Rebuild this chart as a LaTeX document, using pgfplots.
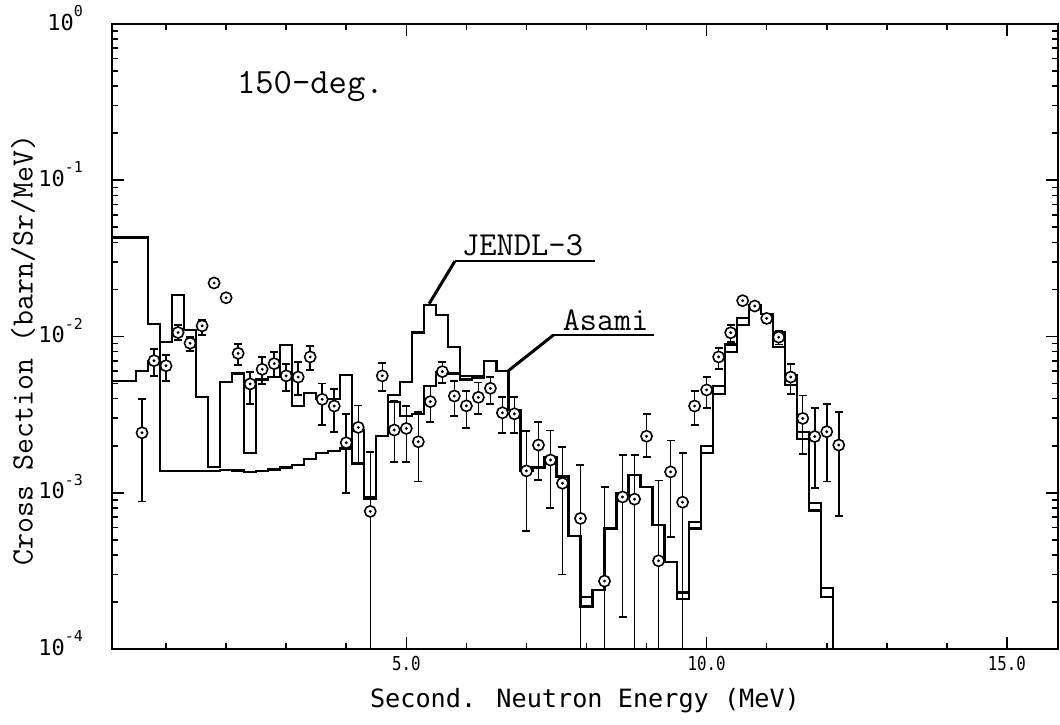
\documentclass[border=0pt]{standalone}
\usepackage{fontspec}
\newfontfamily\plotfont{DejaVu Sans Mono}[FakeStretch=0.82]
\newfontfamily\labfont{DejaVu Sans Mono}
\usepackage{pgfplots}
\pgfplotsset{compat=1.18}
\usepackage{pgfplotstable}

\pgfdeclareplotmark{odot}{%
  \pgfpathcircle{\pgfpointorigin}{\pgfplotmarksize}%
  \pgfsetfillcolor{white}%
  \pgfusepathqfillstroke
  \pgfsetfillcolor{black}%
  \pgfpathcircle{\pgfpointorigin}{0.8pt}%
  \pgfusepathqfill
}
\newcommand{\tenp}[1]{10\raisebox{0.62em}{\fontsize{7.5}{7.5}\selectfont#1}}

% smooth evaluation (high start, flat continuum)
\pgfplotstableread{
E v
0.1 0.043
0.7 0.012
0.9 1.38e-3
1.1 1.38e-3
1.3 1.38e-3
1.5 1.38e-3
1.7 1.38e-3
1.9 1.40e-3
2.1 1.39e-3
2.3 1.36e-3
2.5 1.37e-3
2.7 1.41e-3
2.9 1.45e-3
3.1 1.50e-3
3.3 1.64e-3
3.5 1.79e-3
3.7 1.85e-3
3.9 1.92e-3
4.1 2.5e-3
4.3 9.4e-4
4.5 2.3e-3
4.7 3.8e-3
4.9 3.1e-3
5.1 3.2e-3
5.3 4.8e-3
5.5 5.9e-3
5.7 5.8e-3
5.9 5.3e-3
6.1 5.6e-3
6.3 7.0e-3
6.5 6.0e-3
6.7 3.4e-3
6.9 1.37e-3
7.1 1.45e-3
7.3 1.70e-3
7.5 1.27e-3
7.7 5.3e-4
7.9 1.87e-4
8.1 2.38e-4
8.3 5.9e-4
8.5 9.6e-4
8.7 1.30e-3
8.9 1.09e-3
9.1 6.2e-4
9.3 3.6e-4
9.5 2.3e-4
9.7 6.5e-4
9.9 2.0e-3
10.1 4.8e-3
10.3 8.9e-3
10.5 0.0131
10.7 0.0160
10.9 0.0140
11.1 0.0106
11.3 5.7e-3
11.5 2.45e-3
11.7 8.6e-4
11.9 2.45e-4
12.1 1e-6
12.3 1e-6
}\asami

% jagged evaluation
\pgfplotstableread{
E v
0.1 5.2e-3
0.5 6.0e-3
0.7 7.0e-3
0.9 9.2e-3
1.1 0.0184
1.3 0.0110
1.5 4.1e-3
1.7 1.46e-3
1.9 5.1e-3
2.1 5.8e-3
2.3 1.8e-3
2.5 5.3e-3
2.7 5.5e-3
2.9 8.8e-3
3.1 3.6e-3
3.3 4.35e-3
3.5 4.0e-3
3.7 4.0e-3
3.9 5.7e-3
4.1 1.54e-3
4.3 9.1e-4
4.5 2.3e-3
4.7 4.2e-3
4.9 5.1e-3
5.1 0.0106
5.3 0.0160
5.5 0.0137
5.7 8.6e-3
5.9 5.6e-3
6.1 5.4e-3
6.3 7.0e-3
6.5 6.0e-3
6.7 3.4e-3
6.9 1.37e-3
7.1 1.45e-3
7.3 1.70e-3
7.5 1.27e-3
7.7 5.3e-4
7.9 2.15e-4
8.1 2.38e-4
8.3 5.9e-4
8.5 1.0e-3
8.7 1.30e-3
8.9 1.09e-3
9.1 6.2e-4
9.3 3.6e-4
9.5 2.1e-4
9.7 5.9e-4
9.9 1.8e-3
10.1 4.3e-3
10.3 8.0e-3
10.5 0.0118
10.7 0.0160
10.9 0.0140
11.1 8.6e-3
11.3 4.9e-3
11.5 2.2e-3
11.7 7.7e-4
11.9 2.16e-4
12.1 1e-6
12.3 1e-6
}\jendl

% measured points: E, value, error plus, error minus
\pgfplotstableread{
E v ep em
0.6 2.42e-3 1.54e-3 1.54e-3
0.8 7.0e-3 1.3e-3 1.4e-3
1.0 6.5e-3 1.1e-3 1.3e-3
1.2 0.0106 1.3e-3 1.1e-3
1.4 9.06e-3 0.9e-3 1.0e-3
1.6 0.0117 1.0e-3 1.5e-3
1.8 0.0220 0.4e-3 0.4e-3
2.0 0.0177 0.4e-3 0.4e-3
2.2 7.8e-3 1.2e-3 1.2e-3
2.4 4.97e-3 0.95e-3 1.25e-3
2.6 6.17e-3 1.2e-3 1.2e-3
2.8 6.7e-3 1.3e-3 1.2e-3
3.0 5.6e-3 1.1e-3 1.1e-3
3.2 5.5e-3 1.4e-3 1.3e-3
3.4 7.4e-3 1.3e-3 1.3e-3
3.6 3.96e-3 1.05e-3 1.25e-3
3.8 3.59e-3 1.0e-3 1.15e-3
4.0 2.09e-3 1.1e-3 1.09e-3
4.2 2.62e-3 1.0e-3 1.08e-3
4.4 7.6e-4 1.07e-3 7.59e-4
4.6 5.6e-3 1.2e-3 1.1e-3
4.8 2.52e-3 1.35e-3 0.95e-3
5.0 2.58e-3 1.0e-3 1.0e-3
5.2 2.12e-3 1.18e-3 0.94e-3
5.4 3.83e-3 1.0e-3 0.98e-3
5.6 5.96e-3 0.9e-3 0.9e-3
5.8 4.16e-3 1.05e-3 1.05e-3
6.0 3.6e-3 0.9e-3 1.0e-3
6.2 4.08e-3 1.0e-3 0.9e-3
6.4 4.66e-3 0.85e-3 0.95e-3
6.6 3.25e-3 0.85e-3 0.85e-3
6.8 3.2e-3 0.9e-3 0.8e-3
7.0 1.38e-3 1.1e-3 0.81e-3
7.2 2.02e-3 0.83e-3 0.82e-3
7.4 1.62e-3 0.88e-3 0.82e-3
7.6 1.15e-3 0.82e-3 0.85e-3
7.9 6.85e-4 8.2e-4 6.84e-4
8.3 2.72e-4 8.2e-4 2.71e-4
8.6 9.4e-4 8.1e-4 7.8e-4
8.8 9.1e-4 8.4e-4 9.09e-4
9.0 2.3e-3 0.9e-3 0.6e-3
9.2 3.67e-4 8.3e-4 3.66e-4
9.4 1.36e-3 0.8e-3 0.84e-3
9.6 8.7e-4 0.93e-3 8.69e-4
9.8 3.59e-3 0.91e-3 0.89e-3
10.0 4.55e-3 0.95e-3 1.05e-3
10.2 7.4e-3 1.0e-3 1.2e-3
10.4 0.01057 1.33e-3 1.37e-3
10.6 0.01695 0.4e-3 0.4e-3
10.8 0.01567 0.8e-3 0.8e-3
11.0 0.01306 0.9e-3 0.9e-3
11.2 9.9e-3 1.0e-3 1.0e-3
11.4 5.5e-3 1.2e-3 1.2e-3
11.6 2.99e-3 1.2e-3 1.22e-3
11.8 2.29e-3 1.21e-3 1.22e-3
12.0 2.46e-3 1.24e-3 1.28e-3
12.2 2.02e-3 1.28e-3 1.31e-3
}\points

\begin{document}
\begin{tikzpicture}
\path[use as bounding box] (-56pt,-37.5pt) rectangle (474pt,324.5pt);
\begin{axis}[
  at={(0,0)}, anchor=south west,
  scale only axis, width=473pt, height=312.5pt,
  xmin=0.1, xmax=15.85,
  ymode=log, ymin=1e-4, ymax=1,
  xtick={5,10,15}, xticklabels={5.0,10.0,15.0},
  minor xtick={1,2,3,4,6,7,8,9,11,12,13,14},
  ytick={1e-4,1e-3,1e-2,1e-1,1},
  yticklabels={\tenp{-4},\tenp{-3},\tenp{-2},\tenp{-1},\tenp{0}},
  minor ytick={2e-4,3e-4,4e-4,5e-4,6e-4,7e-4,8e-4,9e-4,
               2e-3,3e-3,4e-3,5e-3,6e-3,7e-3,8e-3,9e-3,
               2e-2,3e-2,4e-2,5e-2,6e-2,7e-2,8e-2,9e-2,
               2e-1,3e-1,4e-1,5e-1,6e-1,7e-1,8e-1,9e-1},
  tick align=inside, tick pos=both,
  major tick length=6pt, minor tick length=3pt,
  axis line style={line width=1.1pt},
  every tick/.style={black, line width=0.8pt},
  xticklabel style={font=\plotfont\fontsize{9.6}{10}\selectfont},
  yticklabel style={font=\labfont\fontsize{11}{12}\selectfont, anchor=east, xshift=-11pt, yshift=3pt},
  xlabel={Second. Neutron Energy (MeV)},
  xlabel style={font=\labfont\fontsize{12.6}{13}\selectfont, at={(axis description cs:0.5,-0.082)}, anchor=center},
  ylabel={Cross Section (barn/Sr/MeV)},
  ylabel style={font=\ttfamily\fontsize{15.5}{16}\selectfont, at={(axis description cs:-0.094,0.478)}, anchor=center},
]
\addplot[const plot, black, line width=1.1pt] table[x=E, y=v] {\asami};
\addplot[const plot, black, line width=1.1pt] table[x=E, y=v] {\jendl};
\addplot[only marks, mark=odot, mark size=2.8pt, mark options={fill=white, draw=black, line width=0.8pt},
  error bars/.cd, y dir=both, y explicit, error mark=-,
  error bar style={black, line width=0.75pt},
  error mark options={rotate=90, black, line width=0.9pt, mark size=2pt}]
  table[x=E, y=v, y error plus=ep, y error minus=em] {\points};

\draw[line width=1.5pt] (axis cs:5.38,0.0162) -- (axis cs:5.81,0.0304);
\draw[line width=1pt] (axis cs:5.81,0.0304) -- (axis cs:8.14,0.0304);
\node[anchor=base west, inner sep=0pt, font=\ttfamily\fontsize{16.8}{17}\selectfont] at (axis cs:5.92,0.0330) {JENDL-3};
\draw[line width=1.5pt] (axis cs:6.69,0.0060) -- (axis cs:7.45,0.01022);
\draw[line width=1pt] (axis cs:7.45,0.01022) -- (axis cs:9.12,0.01022);
\node[anchor=base west, inner sep=0pt, font=\ttfamily\fontsize{16.6}{17}\selectfont] at (axis cs:7.60,0.0110) {Asami};
\node[anchor=base west, inner sep=0pt, font=\ttfamily\fontsize{17.8}{18}\selectfont] at (axis cs:2.175,0.361) {150-deg.};
\end{axis}
\end{tikzpicture}
\end{document}
